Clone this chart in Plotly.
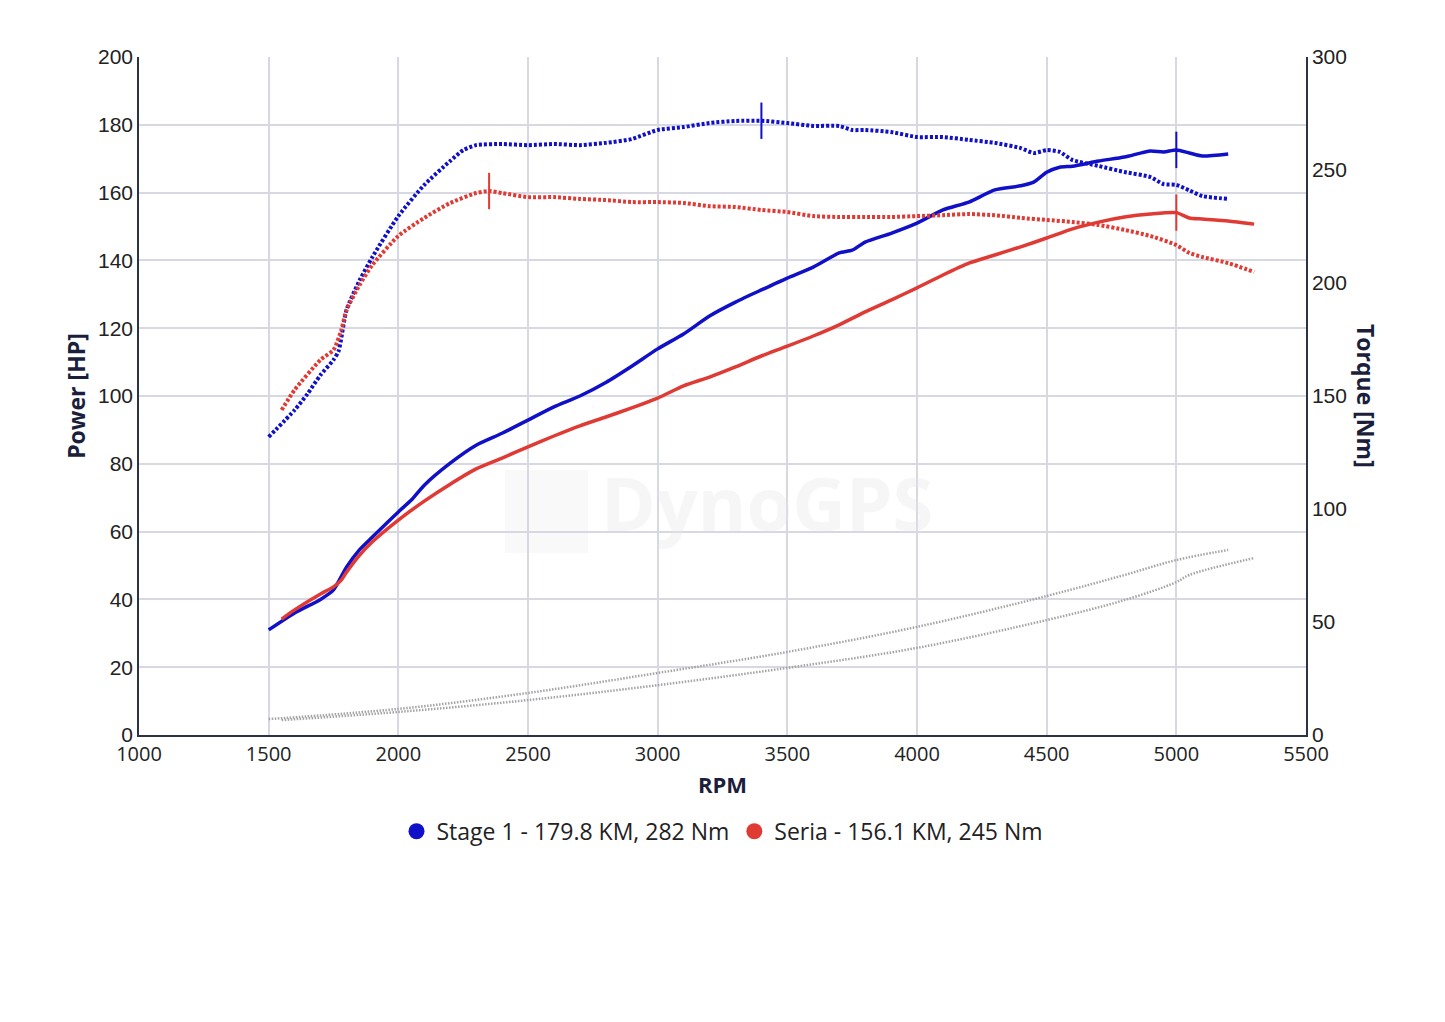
import plotly.graph_objects as go

# ---- data ----
rpm_s1 = [1500, 1600, 1700, 1750, 1800, 1850, 1900, 2000, 2050, 2100, 2200, 2300, 2400, 2500, 2600,
          2700, 2800, 2900, 3000, 3100, 3200, 3300, 3400, 3500, 3600, 3700, 3750, 3800, 3900, 4000,
          4100, 4200, 4300, 4400, 4450, 4500, 4550, 4600, 4700, 4800, 4900, 4950, 5000, 5050, 5100, 5200]
power_s1 = [31.0, 36.0, 40.0, 42.8, 49.5, 54.6, 58.4, 65.8, 69.3, 73.7, 80.2, 85.5, 89.0, 92.9, 96.8,
            100.0, 104.0, 108.8, 113.9, 118.3, 123.6, 127.7, 131.3, 134.8, 138.0, 142.2, 143.0, 145.4, 148.0, 151.0,
            154.9, 157.2, 160.8, 162.0, 163.1, 166.0, 167.5, 167.8, 169.3, 170.5, 172.3, 172.0, 172.6, 171.7, 170.8, 171.4]

rpm_s1_t = [1500, 1600, 1650, 1700, 1750, 1770, 1800, 1850, 1900, 2000, 2100, 2200, 2250, 2300, 2400,
            2500, 2600, 2700, 2800, 2900, 3000, 3100, 3200, 3300, 3400, 3500, 3600, 3700, 3750, 3800,
            3900, 4000, 4100, 4200, 4300, 4400, 4450, 4500, 4550, 4600, 4700, 4800, 4900, 4950, 5000,
            5050, 5100, 5200]
torque_s1 = [131.9, 143.8, 151.0, 159.3, 166.0, 170.0, 188.0, 201.0, 211.5, 229.6, 243.4, 254.0, 258.8, 261.0, 261.5,
             261.0, 261.5, 261.0, 262.0, 263.7, 267.7, 269.0, 270.8, 271.7, 271.8, 270.8, 269.5, 269.5, 267.7, 267.7,
             266.8, 264.6, 264.6, 263.3, 262.0, 259.7, 257.5, 258.8, 258.0, 254.4, 251.8, 249.1, 246.9, 243.8, 243.4,
             241.0, 238.5, 237.2]

rpm_se = [1550, 1600, 1700, 1750, 1780, 1800, 1850, 1900, 2000, 2100, 2200, 2300, 2400, 2500, 2600,
          2700, 2800, 2900, 3000, 3100, 3200, 3300, 3400, 3500, 3600, 3700, 3800, 3900, 4000, 4100,
          4200, 4300, 4400, 4500, 4600, 4700, 4800, 4900, 5000, 5050, 5100, 5200, 5300]
power_se = [34.2, 36.9, 41.6, 43.7, 45.7, 48.0, 53.0, 57.0, 63.4, 69.0, 74.0, 78.5, 81.7, 85.0, 88.2,
            91.2, 93.8, 96.5, 99.4, 103.0, 105.6, 108.6, 111.8, 114.7, 117.7, 121.0, 124.8, 128.3, 131.9, 135.7,
            139.2, 141.6, 144.0, 146.6, 149.3, 151.3, 152.8, 153.7, 154.1, 152.5, 152.2, 151.6, 150.7]

rpm_se_t = [1550, 1600, 1700, 1750, 1780, 1800, 1850, 1900, 2000, 2100, 2200, 2300, 2350, 2400, 2500,
            2600, 2700, 2800, 2900, 3000, 3100, 3200, 3300, 3400, 3500, 3600, 3700, 3800, 3900, 4000,
            4100, 4200, 4300, 4400, 4500, 4600, 4700, 4800, 4900, 5000, 5050, 5100, 5200, 5300]
torque_se = [143.8, 152.7, 166.0, 170.4, 179.2, 188.0, 199.0, 208.0, 220.8, 228.8, 235.4, 239.8, 240.7, 239.8, 238.0,
             238.0, 237.2, 236.7, 235.8, 235.8, 235.4, 234.0, 233.6, 232.3, 231.4, 229.6, 229.2, 229.2, 229.2, 229.6,
             230.0, 230.5, 230.0, 228.8, 227.9, 227.0, 225.7, 223.5, 220.8, 216.8, 213.3, 211.5, 208.8, 204.9]

rpm_loss_s1 = [1500, 2000, 2500, 3000, 3500, 4000, 4500, 4800, 5000, 5200]
loss_s1 = [4.7, 7.7, 12.4, 18.3, 24.5, 31.9, 41.0, 47.2, 51.6, 54.6]
rpm_loss_se = [1550, 2000, 2500, 3000, 3500, 4000, 4500, 4800, 5000, 5050, 5300]
loss_se = [4.4, 6.8, 10.3, 14.7, 19.8, 25.7, 33.9, 39.8, 45.1, 47.2, 52.2]

legend_names = ["Stage 1 - 179.8 KM, 282 Nm", "Seria - 156.1 KM, 245 Nm"]
colors = ["#1010c8", "#e03a34"]

x_ticks = [1000, 1500, 2000, 2500, 3000, 3500, 4000, 4500, 5000, 5500]
hp_ticks = list(range(0, 201, 20))
nm_ticks = list(range(0, 301, 50))

# ---- figure ----
fig = go.Figure()
DOT = "3px,2px"

def peak(xs, ys):
    i = max(range(len(ys)), key=lambda k: ys[k])
    return xs[i], ys[i]

# loss lines (gray)
for xs, ys in [(rpm_loss_s1, loss_s1), (rpm_loss_se, loss_se)]:
    fig.add_trace(go.Scatter(x=xs, y=ys, mode="lines",
                             line=dict(color="#a4a4a4", width=2.5, dash="1.5px,1.5px", shape="spline"),
                             showlegend=False, hoverinfo="skip"))

series = [
    (rpm_s1, power_s1, rpm_s1_t, torque_s1, colors[0], legend_names[0]),
    (rpm_se, power_se, rpm_se_t, torque_se, colors[1], legend_names[1]),
]
for rp, pw, rt, tq, col, name in series:
    fig.add_trace(go.Scatter(x=rt, y=tq, yaxis="y2", mode="lines",
                             line=dict(color=col, width=4, dash=DOT, shape="spline", smoothing=0.6),
                             showlegend=False, legendgroup=name))
    fig.add_trace(go.Scatter(x=rp, y=pw, mode="lines",
                             line=dict(color=col, width=3.5, shape="spline", smoothing=0.6),
                             showlegend=False, legendgroup=name))
    px_, py_ = peak(rp, pw)
    fig.add_trace(go.Scatter(x=[px_], y=[py_], mode="markers",
                             marker=dict(symbol="line-ns", size=26, line=dict(color=col, width=2)),
                             showlegend=False, legendgroup=name, hoverinfo="skip"))
    tx_, ty_ = peak(rt, tq)
    fig.add_trace(go.Scatter(x=[tx_], y=[ty_], yaxis="y2", mode="markers",
                             marker=dict(symbol="line-ns", size=26, line=dict(color=col, width=2)),
                             showlegend=False, legendgroup=name, hoverinfo="skip"))
    # legend entry
    fig.add_trace(go.Scatter(x=[None], y=[None], mode="markers", name=name, legendgroup=name,
                             marker=dict(symbol="circle", size=26, color=col)))

grid = "#d7d8e2"
axis_line = "#2b3445"
title_font = dict(family="Open Sans, sans-serif", size=23, color="#1b1f3b")
fig.update_layout(
    width=1445, height=1022, autosize=False,
    paper_bgcolor="white", plot_bgcolor="white",
    margin=dict(l=139, r=139, t=57, b=287),
    font=dict(family="Open Sans, sans-serif", color="#222"),
    xaxis=dict(range=[1000, 5500], tickvals=x_ticks, showgrid=True, gridcolor=grid, gridwidth=1.5,
               showline=True, linecolor=axis_line, linewidth=1.5, zeroline=False,
               tickfont=dict(family="Open Sans, sans-serif", size=20, color="#222"),
               ticks="", title=dict(text="<b>RPM</b>", font=dict(family="Open Sans, sans-serif", size=22, color="#1b1f3b"), standoff=12)),
    yaxis=dict(range=[0, 200], tickvals=hp_ticks, showgrid=True, gridcolor=grid, gridwidth=1.5,
               showline=True, linecolor=axis_line, linewidth=1.5, zeroline=False, ticks="",
               tickfont=dict(family="Liberation Sans, Arial, sans-serif", size=21, color="#222"),
               title=dict(text="<b>Power [HP]</b>", font=title_font, standoff=6)),
    yaxis2=dict(range=[0, 300], tickvals=nm_ticks, overlaying="y", side="right", showgrid=False,
                showline=True, linecolor=axis_line, linewidth=1.5, zeroline=False, ticks="",
                tickfont=dict(family="Liberation Sans, Arial, sans-serif", size=21, color="#222")),
    legend=dict(orientation="h", x=0.5, xanchor="center", y=-0.142, yanchor="middle",
                font=dict(family="Open Sans, sans-serif", size=23, color="#222"), itemsizing="trace"),
    showlegend=True,
)

# right axis title rotated like the reference
fig.add_annotation(text="<b>Torque [Nm]</b>", xref="paper", yref="paper", x=(1366-139)/1167, y=(735-396)/678,
                   textangle=90, showarrow=False, xanchor="center", yanchor="middle", font=title_font)

# watermark
fig.add_shape(type="rect", xref="paper", yref="paper", x0=(505-139)/1167, x1=(588-139)/1167,
              y0=(735-553)/678, y1=(735-470)/678, fillcolor="rgba(240,240,240,0.4)", line=dict(width=0), layer="below")
fig.add_annotation(text="<b>DynoGPS</b>", xref="paper", yref="paper", x=(767-139)/1167, y=(735-502)/678,
                   showarrow=False, font=dict(family="Open Sans, sans-serif", size=74, color="rgba(230,230,230,0.35)"))

fig.write_html("out.html")
